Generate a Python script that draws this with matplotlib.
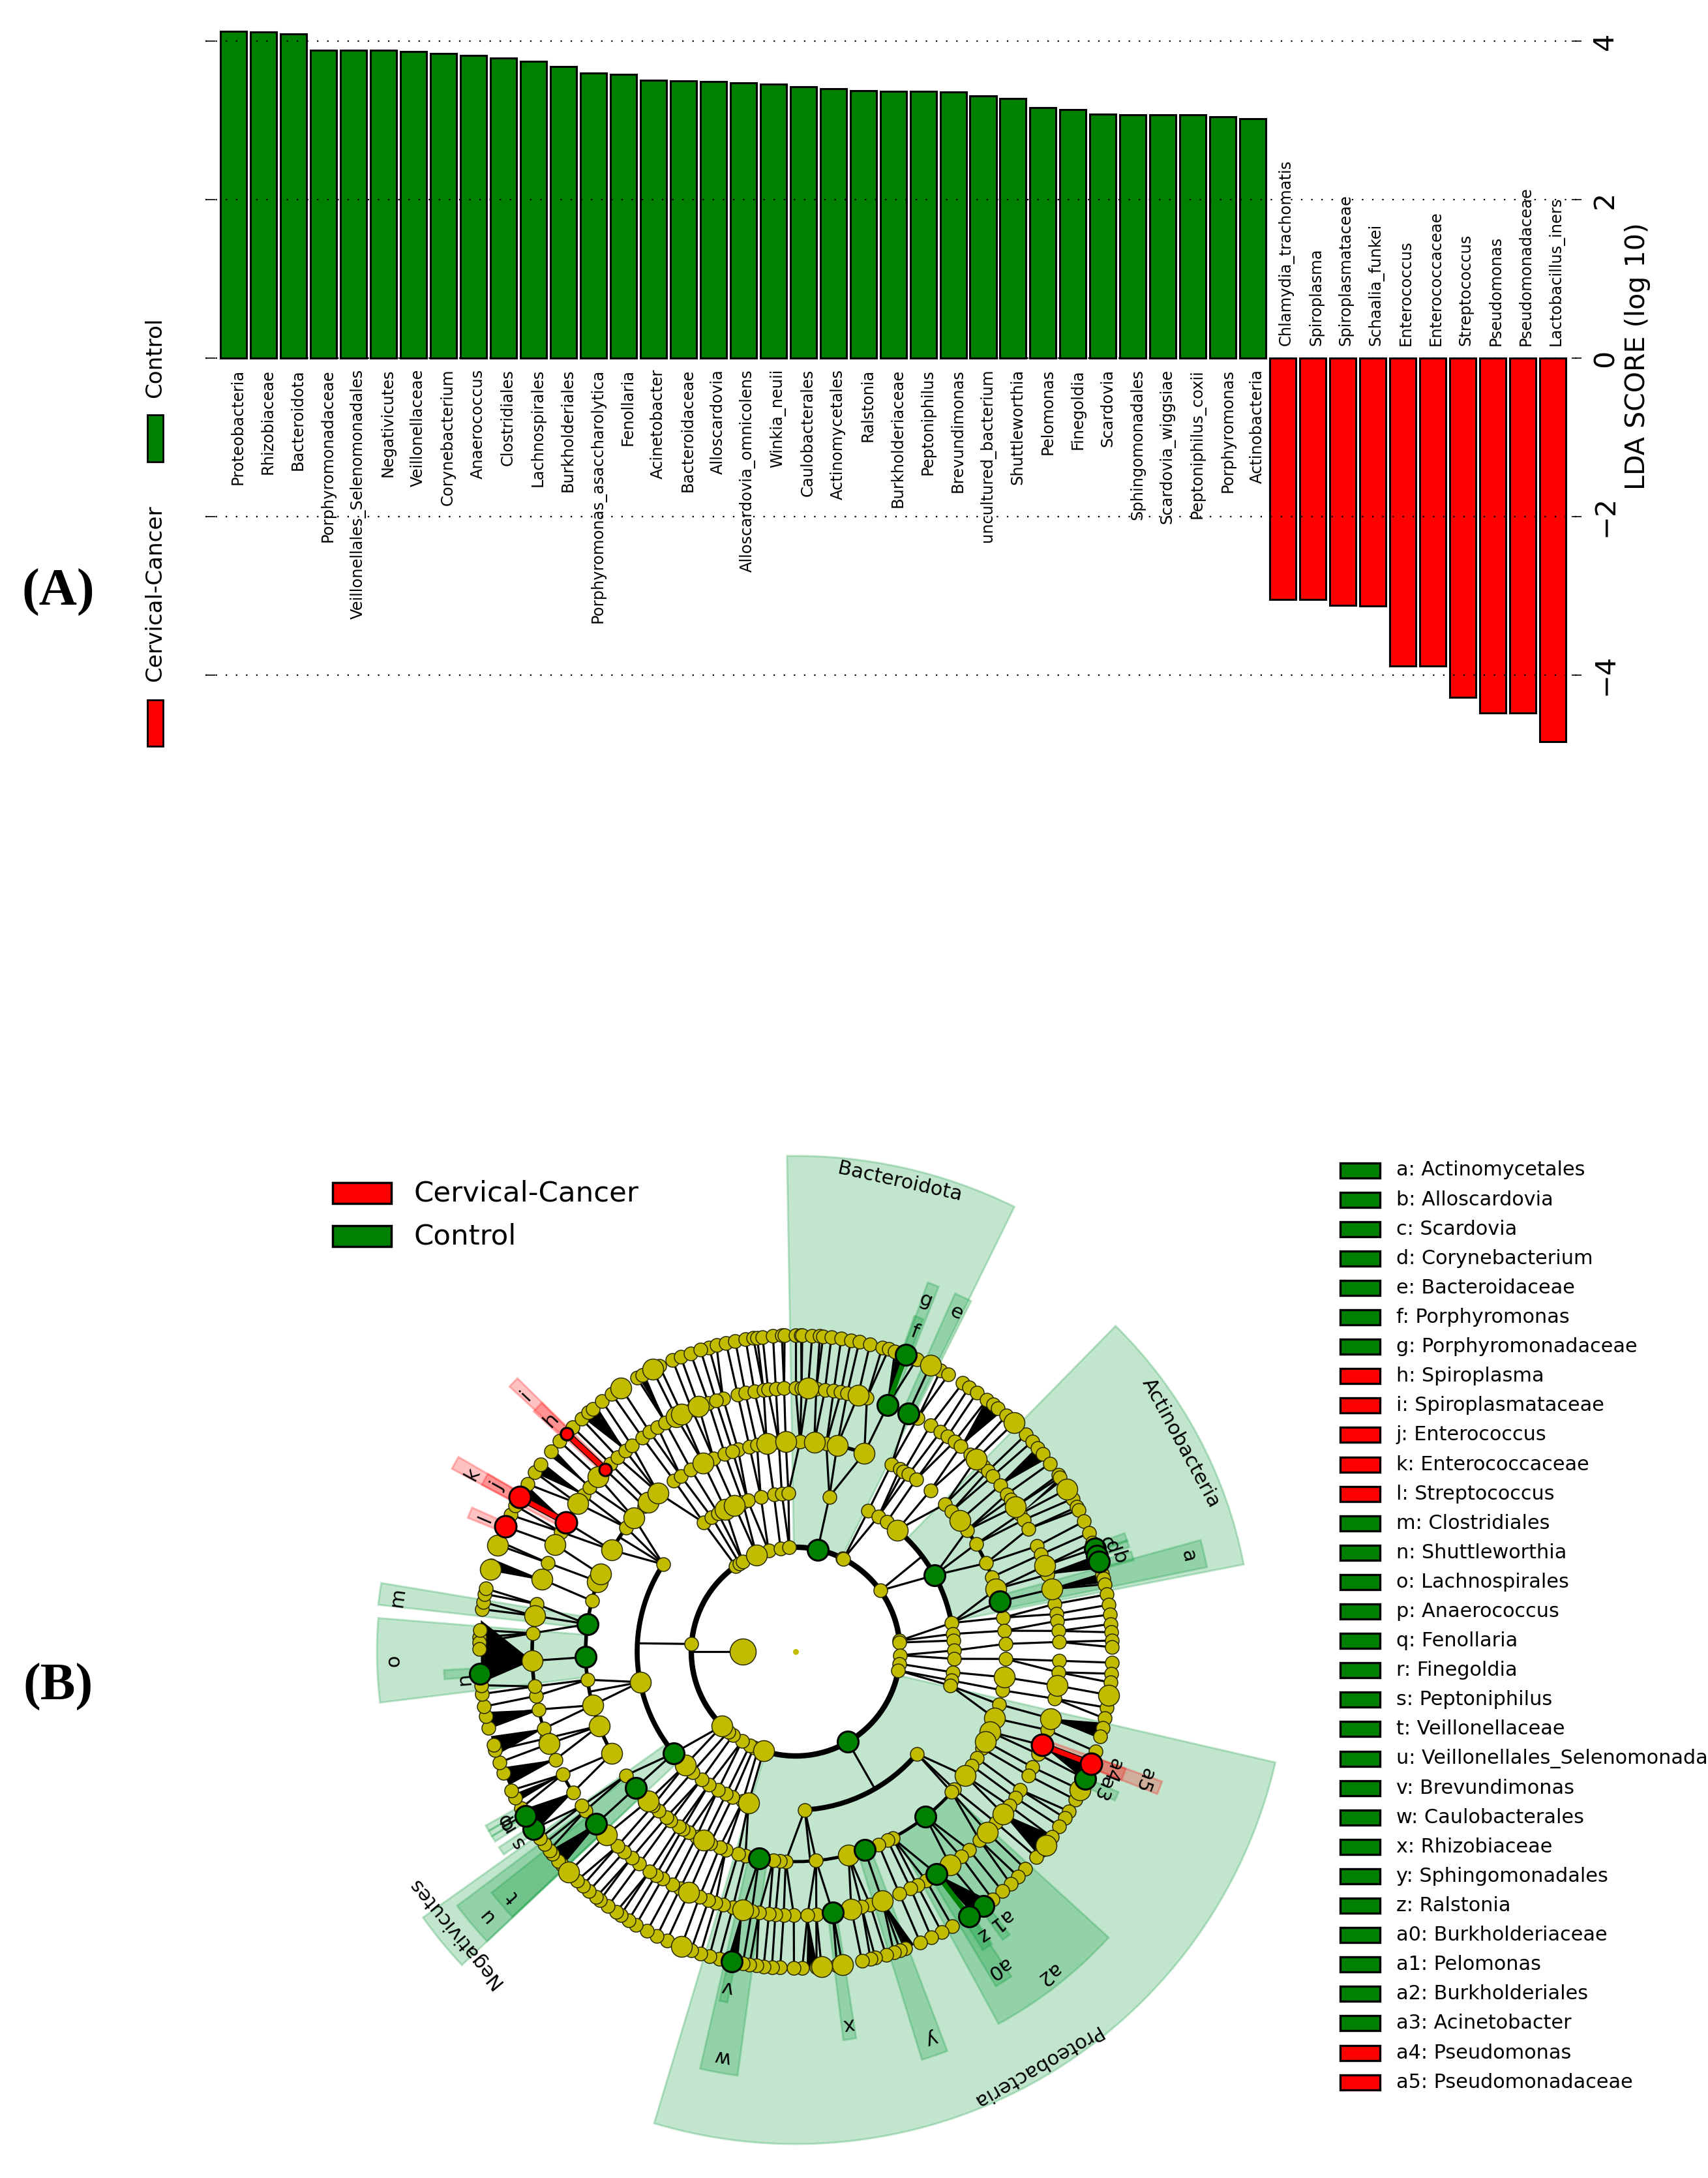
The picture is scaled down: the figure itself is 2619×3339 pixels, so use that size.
#!/usr/bin/env python3
"""LDA score bars (A) and LEfSe cladogram (B)."""
import numpy as np
import matplotlib
matplotlib.use('Agg')
import matplotlib.pyplot as plt
from matplotlib.collections import LineCollection
from matplotlib.patches import Wedge, Arc, Rectangle

W, H = 2619, 3339
GREEN, RED = '#008000', '#ff0000'
plt.rcParams['font.family'] = ['DejaVu Sans']

# ---- panel A data --------------------------------------------------------
bar_names = ['Proteobacteria', 'Rhizobiaceae', 'Bacteroidota', 'Porphyromonadaceae',
             'Veillonellales_Selenomonadales', 'Negativicutes', 'Veillonellaceae', 'Corynebacterium',
             'Anaerococcus', 'Clostridiales', 'Lachnospirales', 'Burkholderiales',
             'Porphyromonas_asaccharolytica', 'Fenollaria', 'Acinetobacter', 'Bacteroidaceae',
             'Alloscardovia', 'Alloscardovia_omnicolens', 'Winkia_neuii', 'Caulobacterales',
             'Actinomycetales', 'Ralstonia', 'Burkholderiaceae', 'Peptoniphilus', 'Brevundimonas',
             'uncultured_bacterium', 'Shuttleworthia', 'Pelomonas', 'Finegoldia', 'Scardovia',
             'Sphingomonadales', 'Scardovia_wiggsiae', 'Peptoniphilus_coxii', 'Porphyromonas',
             'Actinobacteria', 'Chlamydia_trachomatis', 'Spiroplasma', 'Spiroplasmataceae',
             'Schaalia_funkei', 'Enterococcus', 'Enterococcaceae', 'Streptococcus', 'Pseudomonas',
             'Pseudomonadaceae', 'Lactobacillus_iners']
bar_scores = [4.13, 4.12, 4.09, 3.89, 3.89, 3.89, 3.87, 3.85, 3.82, 3.79, 3.75, 3.68, 3.60, 3.58,
              3.51, 3.50, 3.49, 3.48, 3.46, 3.43, 3.40, 3.38, 3.37, 3.37, 3.36, 3.31, 3.28, 3.16,
              3.14, 3.08, 3.07, 3.07, 3.07, 3.05, 3.02, -3.05, -3.05, -3.12, -3.13, -3.89, -3.89,
              -4.28, -4.48, -4.48, -4.84]
score_ticks = [-4, -2, 0, 2, 4]

# ---- panel B data: node angles (degrees) on each ring ---------------------
ring_radius = [81, 160, 243, 322, 404, 485]

ring1_theta = [125, 122.5, 120.5, 112, 105, 98.3, 93.5, 77.8, 63.1, 62.7, 35.8, 6, 5, -2, -6.7, -10.4,
               -59.9, -107.9, -111, -113.5, -116, -120.9, -126.8, -130, -134.7, 175.8]
ring1_big = [112, -134.7, -107.9]

ring2_theta = [125.5, 122, 119.3, 116.3, 112.7, 109.5, 107.6, 102.7, 97.9, 95, 92.6, 77.7, 62.7, 58.5,
               54.9, 50.1, 28.8, 10.4, 6.4, 4, 0.4, -2.6, -7.5, -10.5, -12.4, -40.1, -86.7, -107.3,
               -109.5, -113.4, -116, -119.3, -123.1, -126.4, -130.6, -134.2, -140.2, -168.9, 146.6]
ring2_big = [116.3, 112.7, 50.1, -107.3, -134.2, -168.9]

ring3_theta = [105.9, 102.7, 100.6, 97.9, 94.6, 92.7, 88.8, 84.9, 81.6, 78.6, 70.9, 62.9, 60.3, 59.1,
               57.5, 55, 50.1, 44.6, 42, 38.6, 35.3, 30.8, 24.9, 20.8, 17.3, 13.8, 9.3, 5.7, 2.1, -2,
               -7, -10.6, -14.5, -18.5, -22.4, -25.3, -27.4, -30.4, -32.9, -36.2, -40.9, -42, -51.8,
               -62.5, -64, -66.7, -70.8, -75.4, -84.4, -92.7, -94.2, -96.1, -100, -103.8, -105.9,
               -109.4, -111.2, -114, -116, -118.2, -120.6, -122.5, -123.7, -126.5, -128, -130.7,
               -132.8, -134.7, -139.6, -143.9, -151, -159.3, -165.2, -172.3, -178.5, 172.5, 166,
               160.5, 158.4, 151.1, 143.8, 140.4, 136.2, 134.6, 130.9, 125.4, 123.2, 119.9, 116.1,
               113, 109.7, 107.5]
ring3_big = [97.9, 92.7, 84.9, 78.6, 70.9, 38.6, 17.3, -7, -18.5, -22.4, -25.3, -36.2, -75.4, -116,
             -134.7, -151, -159.3, -165.2, 160.5, 158.4, 151.1, 140.4, 134.6, 130.9, 116.1]

ring4_theta = [106, 102.7, 101, 99, 97, 96, 94.3, 92.5, 90, 88.7, 87.3, 85.5, 83.6, 81.7, 80.1, 78.7,
               76.3, 74.3, 69.5, 64.7, 62.4, 59.2, 56.6, 54.8, 52.9, 51.2, 48.4, 46.8, 44.6, 43.2,
               41.7, 39.1, 36.7, 35.3, 33.4, 31.5, 30, 27.8, 23.6, 21.6, 19, 17, 13.7, 10.4, 8.2,
               6.7, 4.5, 2.1, -2, -4.5, -7.4, -10.3, -14.7, -17.3, -20.8, -22.9, -26, -28, -31.6,
               -33.6, -35.8, -38, -40.5, -43.3, -45.7, -48.8, -51.1, -54.1, -57.6, -60.3, -62.5,
               -64.1, -66.8, -70.8, -73.6, -75.5, -77.8, -81.9, -85.5, -87.4, -90.4, -92.6, -94.4,
               -95.8, -98, -99.6, -101.6, -103.8, -106, -107.7, -109.3, -111.4, -113.9, -116,
               -117.9, -120.4, -122, -123.6, -126.4, -128.5, -130.6, -132.5, -135.9, -139.2, -142.9,
               -144.2, -147.7, -152.2, -155.8, -159.5, -160.8, -163, -167.3, -170.3, -172.4, -178,
               176, 172.2, 169.6, 164.1, 160.3, 156, 153, 150.6, 145.8, 143.6, 141.4, 138.5, 136.3,
               134.6, 132.5, 130.3, 128.5, 125.6, 123.6, 121.6, 119.6, 117, 115.6, 113.2, 111.6,
               109.3, 107.6]
ring4_big = [87.3, 76.3, 46.8, 33.4, 19, 13.7, -7.4, -14.7, -38, -43.3, -54.1, -70.8, -77.8, -101.6,
             -113.9, -135.9, -159.5, -178, 172.2, 164.1, 156, 145.8, 138.5, 117, 115.6, 111.6]

ring5_theta = [105.9, 104.5, 102.7, 101, 99.1, 97.7, 97, 96, 94.1, 92.5, 92, 90, 89, 88.8, 87, 85.6,
               85, 83.5, 81.7, 79.9, 78.4, 76.4, 74.1, 72.9, 71.7, 69.6, 67.5, 64.8, 62.7, 61.1,
               58.1, 56.7, 55, 52.8, 51.4, 50.2, 48.2, 46.3, 43.3, 41.6, 40.1, 38.6, 36.5, 33.9,
               33.4, 30.9, 28.9, 27.2, 26.6, 24.3, 22, 20.1, 19, 17.6, 16.5, 14.2, 13.4, 12.3, 10.4,
               8.5, 6.7, 5, 3.5, 2, 0.8, -2, -4, -5.6, -7.9, -10.2, -12.2, -14, -15.6, -18.4, -20.8,
               -23.7, -25.9, -27.9, -30.3, -31.7, -33.5, -35.9, -37.7, -38.8, -40.5, -43.4, -45.3,
               -47.2, -49.2, -51.5, -53.5, -56.8, -60.3, -62.5, -64.6, -66.8, -69.7, -70.7, -71.9,
               -73.4, -75.4, -76.3, -77.9, -81.5, -82.5, -85.3, -86.2, -88.8, -90.3, -92.8, -94.3,
               -95.8, -97.1, -98.4, -99.6, -101.6, -104, -105.8, -107.5, -109.3, -111.2, -114, -116,
               -118, -120.3, -121.9, -123.6, -124.6, -126.4, -128.2, -129.1, -130.8, -132.3, -133.7,
               -135.8, -137.6, -138.6, -140.3, -141.1, -142.6, -143.9, -145.9, -147.5, -148.7, -150.3,
               -152.5, -154, -157.5, -159.5, -161.8, -162.8, -166, -168.2, -170, -172.3, -173.9, -176,
               177.4, 178.3, 179.5, 176.1, 172.3, 171, 169.5, 168.5, 165, 164.2, 160.3, 159.6, 156.7,
               154.4, 152.5, 150.8, 148, 145.5, 143.7, 140.7, 138.3, 136.4, 134.8, 132.6, 130.9, 129.9,
               127.7, 125.5, 123.5, 120.1, 119, 116.9, 115.5, 112.9, 111.3, 109.4, 107.5]
ring5_big = [64.8, 46.3, 30.9, -7.9, -25.9, -37.7, -81.5, -85.3, -111.2, -135.8, 123.5, 116.9, 165, 160.3]

# highlighted nodes: ring index, angle
mark_ring = [1, 1, 2, 2, 3, 3, 3, 3, 3, 3, 3, 4, 4, 4, 4, 4, 5, 5, 5, 5, 5, 5, 5, 5, 5, 5, 5]
mark_theta = [77.8, -59.9, 28.8, -140.2, 13.8, -51.8, -70.8, -100, -139.6, -178.5, 172.5,
              69.5, 64.7, -57.6, -81.9, -139.2, 69.6, 19, 17.6, 16.5, -23.7, -53.5, -56.8, -101.6,
              -176, -145.9, -148.7]
red_ring = [4, 4, 4, 5, 5, 5, 5]
red_theta = [136.3, 150.6, -20.8, 136.4, 150.8, 156.7, -20.8]
red_small = [136.3, 136.4]

# thick coloured branches: inner ring, inner angle, outer angle
thick_ring = [4, 4, 4, 4, 4]
thick_inner = [136.3, 150.6, -20.8, 69.5, -57.6]
thick_outer = [136.4, 150.8, -20.8, 69.6, -56.8]
thick_color = [RED, RED, RED, GREEN, GREEN]

# ring arcs: radius index, from, to, width (pt)
arc_ring = [1, 1, 2, 2, 2, 3, 3, 3, 3, 3, 4, 4, 4]
arc_from = [-108, 125, 10.4, -86.7, 146.6, -92.7, 158, 143, 13, 70.9, 172, -167.3, -152.2]
arc_to = [93, 226, 50, -40, 219.8, -41, 209, 151, 35, 78.6, 187, -163, -147.7]
arc_lw = [6, 6, 5.5, 5.5, 5.5, 3.5, 4, 4, 4, 4, 4, 3.5, 3.5]

# branches that do not simply join the nearest node of the next ring
link_ring = [0, 1, 1, 1, 2, 2, 2]
link_inner = [180, 175.8, 35.8, -59.9, -86.7, 146.6, -168.9]
link_outer = [180, 177, 37, -60, -86, 147, -169]

# dense fans, drawn solid: apex angle on ring 4, span on ring 5
fan_apex = [-178, -167.3, -163, -155.8, -152.2, -147.7, -139.2, 164.1, 150.6, 143.6, 141.4, 130.3,
            119.6, 69.5, 51.2, 39.1, 31.5, 17, 13.7, -14.7, -20.8, -38, -57.6, -70.8, -87.4, -101.6]
fan_from = [-185.7, -169, -164.5, -158.5, -153.2, -150, -141, 163, 148.2, 143.2, 140, 129,
            118.5, 69, 49.3, 37.5, 32.6, 15.2, 12.6, -16, -24, -40, -56, -70, -88, -102.5]
fan_to = [-174.3, -166, -160.9, -155, -151.6, -145.3, -137.4, 165, 150.7, 145.6, 141.5, 132.3,
          119.8, 71.5, 52.9, 40, 33.4, 17.8, 14.4, -13, -20, -35.5, -52, -68, -86, -100.5]

# shaded clades
clade_label = ['Bacteroidota', 'Actinobacteria', 'Proteobacteria', 'Negativicutes', 'a', 'b', 'c', 'd', 'e',
               'f', 'g', 'h', 'i', 'j', 'k', 'l', 'm', 'n', 'o', 'p', 'q', 'r', 's', 't', 'u', 'v', 'w',
               'x', 'y', 'z', 'a0', 'a1', 'a2', 'a3', 'a4', 'a5']
clade_from = [63.8, 11, -106.7, -144.5, 11.6, 15.1, 18.4, 17.4, 63.4, 69, 68.6, 135.6, 135.5, 150, 150, 156,
              170.6, -177, 175.4, -150.7, -149.7, -148.7, -146.6, -141.6, -143.1, -102.3, -102.9,
              -83, -72.8, -57.9, -59.1, -54.3, -61.4, -25, -21.5, -21.5]
clade_to = [91, 45.5, -13, -136.8, 15.4, 16.6, 19.8, 18.6, 66, 70.5, 70.3, 137.5, 137.2, 152, 152, 157.8,
            173.6, -175.5, 187, -149.7, -148.7, -147.7, -145.2, -136.9, -136.8, -101, -97.8,
            -81.1, -69.2, -56.1, -56.4, -52.9, -42.4, -23.5, -19.5, -19.5]
clade_inner = [160, 243, 160, 243, 322, 485, 485, 485, 404, 485, 404, 485, 404, 485, 404, 485,
               322, 485, 322, 485, 485, 485, 485, 404, 322, 485, 322,
               404, 322, 485, 404, 485, 322, 485, 485, 404]
clade_outer = [760, 700, 755, 702, 644, 537, 536, 536, 601, 546, 601, 545, 598, 545, 597, 543,
               644, 540, 642, 545, 545, 545, 545, 595, 649, 548, 656,
               600, 655, 540, 598, 544, 650, 540, 537, 596]
clade_text_theta = [77.5, 28.4, -59.9, -140.5, 13.7, 16.2, 19.4, 18.3, 64.6, 69.6, 69.7, 136.6, 136.6, 151, 151.3,
                    156.9, 172.3, 360 - 175.3, -178.7, -150.1, -149.3, -148.6, -145.6, -139.1, -139.6, -101.5,
                    -100.3, -81.9, -70.7, -56.6, -57.4, -52.7, -51.9, -24, -20.6, -20.2]
clade_text_r = [738, 672, 735, 677, 619, 516, 505, 510, 575, 523, 574, 516, 570, 523, 565, 517, 616, 510, 616,
                516, 516, 516, 517, 575, 623, 525, 631, 577, 628, 521, 576, 518, 628, 516, 518, 570]
clade_color = [GREEN] * 7 + [GREEN] * 4 + [RED] * 5 + [GREEN] * 18 + [RED] * 2

# key on the right
key_names = ['a: Actinomycetales', 'b: Alloscardovia', 'c: Scardovia', 'd: Corynebacterium', 'e: Bacteroidaceae',
             'f: Porphyromonas', 'g: Porphyromonadaceae', 'h: Spiroplasma', 'i: Spiroplasmataceae',
             'j: Enterococcus', 'k: Enterococcaceae', 'l: Streptococcus', 'm: Clostridiales',
             'n: Shuttleworthia', 'o: Lachnospirales', 'p: Anaerococcus', 'q: Fenollaria', 'r: Finegoldia',
             's: Peptoniphilus', 't: Veillonellaceae', 'u: Veillonellales_Selenomonadales', 'v: Brevundimonas',
             'w: Caulobacterales', 'x: Rhizobiaceae', 'y: Sphingomonadales', 'z: Ralstonia',
             'a0: Burkholderiaceae', 'a1: Pelomonas', 'a2: Burkholderiales', 'a3: Acinetobacter',
             'a4: Pseudomonas', 'a5: Pseudomonadaceae']
key_red = ['h', 'i', 'j', 'k', 'l', 'a4', 'a5']


def fx(px):
    return px / W


def fy(py):
    return 1 - py / H


def polar(r, t):
    t = np.deg2rad(np.asarray(t, dtype=float))
    return r * np.cos(t), r * np.sin(t)


def size(radius_px):
    return (2 * radius_px * 0.72) ** 2


fig = plt.figure(figsize=(W / 100, H / 100), dpi=100, facecolor='white')

# ---- (A) bars ------------------------------------------------------------
ax = fig.add_axes([fx(315), fy(1150), fx(2425) - fx(315), fy(40) - fy(1150)])
x = np.arange(len(bar_scores))
colors = [GREEN if s > 0 else RED for s in bar_scores]
ax.bar(x, bar_scores, width=0.87, color=colors, edgecolor='k', linewidth=2.2, zorder=2)
ax.set_xlim((315 - 358) / 45.98, (2425 - 358) / 45.98)
ax.set_ylim((549 - 1150) / 121.4, (549 - 40) / 121.4)
ax.set_xticks([])
ax.set_yticks(score_ticks)
ax.yaxis.tick_right()
ax.tick_params(axis='y', direction='in', left=True, right=True, labelright=True, length=11,
               width=1.2, pad=11, labelsize=31, labelrotation=90)
for lab in ax.get_yticklabels():
    lab.set_va('center')
ax.grid(axis='y', color='k', linestyle=(0, (1, 6)), linewidth=1.6, zorder=3)
ax.set_axisbelow(False)
for sp in ax.spines.values():
    sp.set_visible(False)
for i, (name, s) in enumerate(zip(bar_names, bar_scores)):
    if s > 0:
        ax.text(i + 0.15, -0.14, name, rotation=90, ha='center', va='top', fontsize=17.4, zorder=4)
    else:
        ax.text(i + 0.1, 0.157, name, rotation=90, ha='center', va='bottom', fontsize=17.4, zorder=4)
fig.text(fx(2511), fy(546), 'LDA SCORE (log 10)', rotation=90, ha='center', va='center', fontsize=29.6)

fig.text(fx(238), fy(548), 'Control', rotation=90, ha='center', va='center', fontsize=24.6)
fig.text(fx(238), fy(910), 'Cervical-Cancer', rotation=90, ha='center', va='center', fontsize=24.6)
fig.add_artist(Rectangle((fx(226), fy(708)), fx(24), fy(636) - fy(708), fc=GREEN, ec='k', lw=2,
                         transform=fig.transFigure))
fig.add_artist(Rectangle((fx(226), fy(1144)), fx(24), fy(1073) - fy(1144), fc=RED, ec='k', lw=2,
                         transform=fig.transFigure))

fig.text(fx(89), fy(908), '(A)', ha='center', va='center', fontsize=58, weight='bold', family='Liberation Serif')
fig.text(fx(89), fy(2586), '(B)', ha='center', va='center', fontsize=58, weight='bold', family='Liberation Serif')

# ---- (B) cladogram, axes units are image pixels around the root ----------
cx, cy = 1220, 2532
c = fig.add_axes([0, 0, 1, 1], facecolor='none')
c.set_xlim(-cx, W - cx)
c.set_ylim(cy - H, cy)
c.axis('off')

for t1, t2, r0, r1, col in zip(clade_from, clade_to, clade_inner, clade_outer, clade_color):
    c.add_patch(Wedge((0, 0), r1, t1, t2, width=r1 - r0, fc=col if col == RED else '#009632',
                      ec=col if col == RED else '#009632', alpha=0.24, lw=2.2, zorder=1))
for name, t, r in zip(clade_label, clade_text_theta, clade_text_r):
    px_, py_ = polar(r, t)
    c.text(px_, py_, name, rotation=t - 90, ha='center', va='center', fontsize=22, zorder=7)

rings = [ring1_theta, ring2_theta, ring3_theta, ring4_theta, ring5_theta]
bigs = [ring1_big, ring2_big, ring3_big, ring4_big, ring5_big]
segs = []
reach = {1: 7, 2: 7, 3: 8, 4: 9}   # how far (deg) a branch may lean to the nearest parent
for k in range(1, 5):
    inner = np.array(rings[k - 1])
    for t in rings[k]:
        d = np.abs((inner - t + 180) % 360 - 180)
        j = d.argmin()
        if d[j] <= reach[k]:
            segs.append([polar(ring_radius[k], inner[j]), polar(ring_radius[k + 1], t)])
for rk, t0, t1 in zip(link_ring, link_inner, link_outer):
    segs.append([polar(ring_radius[rk], t0), polar(ring_radius[rk + 1], t1)])
c.add_collection(LineCollection(segs, colors='k', linewidths=2.3, zorder=2))

for apex, t0, t1 in zip(fan_apex, fan_from, fan_to):
    p = [polar(404, apex), polar(485, t0), polar(485, t1)]
    c.fill([q[0] for q in p], [q[1] for q in p], color='k', lw=0, zorder=2)

for rk, t0, t1, lw in zip(arc_ring, arc_from, arc_to, arc_lw):
    d = 2 * ring_radius[rk]
    c.add_patch(Arc((0, 0), d, d, theta1=t0, theta2=t1, color='k', lw=lw, zorder=2))

for rk, t0, t1, col in zip(thick_ring, thick_inner, thick_outer, thick_color):
    a, b = polar(ring_radius[rk], t0), polar(ring_radius[rk + 1], t1)
    if col == RED:
        c.plot([a[0], b[0]], [a[1], b[1]], color='k', lw=7.5, zorder=3)
    c.plot([a[0], b[0]], [a[1], b[1]], color=col, lw=5.5, zorder=3)

YEL = '#c2bc00'
for k in range(5):
    xs, ys = polar(ring_radius[k + 1], rings[k])
    c.scatter(xs, ys, s=size(10.5), c=YEL, edgecolors='#2a2a00', linewidths=1.1, zorder=4)
    xs, ys = polar(ring_radius[k + 1], bigs[k])
    c.scatter(xs, ys, s=size(16), c=YEL, edgecolors='#2a2a00', linewidths=1.1, zorder=4)
xs, ys = polar(ring_radius[0], [180])
c.scatter(xs, ys, s=size(20), c=YEL, edgecolors='#2a2a00', linewidths=1.1, zorder=4)
c.scatter([0], [0], s=size(4.5), c=YEL, linewidths=0, zorder=4)

for rk, t in zip(mark_ring, mark_theta):
    xs, ys = polar(ring_radius[rk], t)
    c.scatter(xs, ys, s=size(16), c=GREEN, edgecolors='k', linewidths=2.2, zorder=5)
for rk, t in zip(red_ring, red_theta):
    xs, ys = polar(ring_radius[rk], t)
    c.scatter(xs, ys, s=size(9.5 if t in red_small else 16.5), c=RED, edgecolors='k', linewidths=2.2, zorder=6)

# legends of panel B, placed in image pixels
for name, col, y in zip(['Cervical-Cancer', 'Control'], [RED, GREEN], [1829, 1895]):
    c.add_patch(Rectangle((510 - cx, cy - y - 16), 90, 32, fc=col, ec='k', lw=2.5, zorder=8))
    c.text(634 - cx, cy - y, name, ha='left', va='center', fontsize=31.3, zorder=8)

for i, name in enumerate(key_names):
    y = 1794 + i * 45.1
    col = RED if name.split(':')[0] in key_red else GREEN
    c.add_patch(Rectangle((2055 - cx, cy - y - 11.5), 61, 23, fc=col, ec='k', lw=2.4, zorder=8))
    c.text(2141 - cx, cy - y, name, ha='left', va='center', fontsize=21.8, zorder=8, clip_on=True)

fig.savefig('out.png', dpi=100, facecolor='white')
